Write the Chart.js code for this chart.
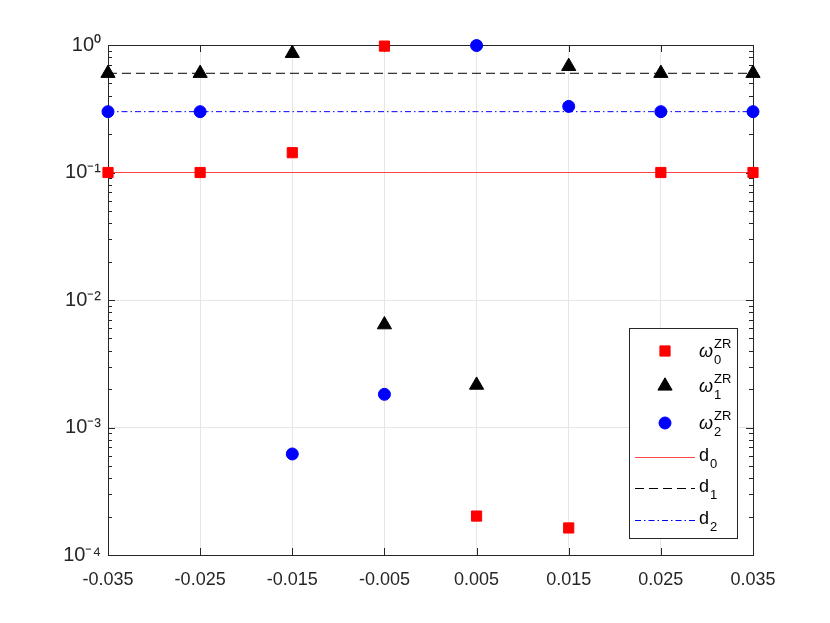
<!DOCTYPE html>
<html><head><meta charset="utf-8">
<script src="https://cdn.jsdelivr.net/npm/chart.js@4.4.0/dist/chart.umd.min.js"></script>
<style>html,body{margin:0;padding:0;background:#fff;} #wrap{width:830px;height:623px;}</style>
</head><body><div id="wrap"><canvas id="c" width="830" height="623"></canvas></div>
<script>
const xValues = [-0.035, -0.025, -0.015, -0.005, 0.005, 0.015, 0.025, 0.035];
const omega0 = [0.1, 0.1, 0.143, 0.98, 2.02e-4, 1.63e-4, 0.1, 0.1];
const omega1 = [0.6, 0.6, 0.86, 6.4e-3, 2.15e-3, 0.68, 0.6, 0.6];
const omega2 = [0.3, 0.3, 6.2e-4, 1.82e-3, 0.99, 0.33, 0.3, 0.3];
const dValues = [0.1, 0.6, 0.3];
const xTicks = [-0.035, -0.025, -0.015, -0.005, 0.005, 0.015, 0.025, 0.035];
const yTicks = [1e-4, 1e-3, 1e-2, 1e-1, 1];
const yTickLabels = ['10\u207B\u2074', '10\u207B\u00B3', '10\u207B\u00B2', '10\u207B\u00B9', '10\u2070'];
const seriesNames = ['\u03C9', '\u03C9', '\u03C9', 'd', 'd', 'd'];
const seriesSubs = ['0', '1', '2', '0', '1', '2'];
const seriesSups = ['ZR', 'ZR', 'ZR', '', '', ''];

const FONT = '"Liberation Sans", Arial, Helvetica, sans-serif';
const AX = '#262626';

function pts(ys) { return xValues.map((x, i) => ({x: x, y: ys[i]})); }
function hline(v) { return [{x: xValues[0], y: v}, {x: xValues[xValues.length - 1], y: v}]; }

const datasets = [
  {label: 'w0', data: pts(omega0), pointStyle: 'rect', pointRadius: 7.2, backgroundColor: '#ff0000', borderColor: '#ff0000', borderWidth: 1, showLine: false, clip: false},
  {label: 'w1', data: pts(omega1), pointStyle: 'triangle', pointRadius: 8.2, backgroundColor: '#000000', borderColor: '#000000', borderWidth: 1, showLine: false, clip: false},
  {label: 'w2', data: pts(omega2), pointStyle: 'circle', pointRadius: 6, backgroundColor: '#0000ff', borderColor: '#0000ff', borderWidth: 1, showLine: false, clip: false},
  {label: 'd0', data: hline(dValues[0]), showLine: true, pointRadius: 0, borderColor: '#ff3030', borderWidth: 0.9, borderDash: [], clip: false},
  {label: 'd1', data: hline(dValues[1]), showLine: true, pointRadius: 0, borderColor: '#000000', borderWidth: 1, borderDash: [9, 5], clip: false},
  {label: 'd2', data: hline(dValues[2]), showLine: true, pointRadius: 0, borderColor: '#0000ff', borderWidth: 1, borderDash: [6, 3, 1.5, 3], clip: false}
];

const boxPlugin = {
  id: 'matlabBox',
  beforeDatasetsDraw(chart) {
    const ctx = chart.ctx, a = chart.chartArea;
    const xs = chart.scales.x, ys = chart.scales.y;
    ctx.save();
    ctx.strokeStyle = AX;
    ctx.lineWidth = 1;
    ctx.beginPath();
    xTicks.forEach(v => {
      const px = Math.round(xs.getPixelForValue(v)) + 0.5;
      ctx.moveTo(px, a.bottom); ctx.lineTo(px, a.bottom - 7);
      ctx.moveTo(px, a.top); ctx.lineTo(px, a.top + 7);
    });
    for (let e = -4; e <= 0; e++) {
      const py = Math.round(ys.getPixelForValue(Math.pow(10, e))) + 0.5;
      ctx.moveTo(a.left, py); ctx.lineTo(a.left + 7, py);
      ctx.moveTo(a.right, py); ctx.lineTo(a.right - 7, py);
      if (e < 0) {
        for (let k = 2; k <= 9; k++) {
          const pm = Math.round(ys.getPixelForValue(k * Math.pow(10, e))) + 0.5;
          ctx.moveTo(a.left, pm); ctx.lineTo(a.left + 4, pm);
          ctx.moveTo(a.right, pm); ctx.lineTo(a.right - 4, pm);
        }
      }
    }
    ctx.stroke();
    ctx.strokeRect(Math.round(a.left) + 0.5, Math.round(a.top) + 0.5, Math.round(a.right - a.left), Math.round(a.bottom - a.top));
    ctx.restore();
  },
  afterDraw(chart) {
    const ctx = chart.ctx;
    const bx = 629, by = 328, bw = 108, bh = 210;
    ctx.save();
    ctx.fillStyle = '#ffffff';
    ctx.fillRect(bx, by, bw, bh);
    ctx.strokeStyle = AX;
    ctx.lineWidth = 1;
    ctx.strokeRect(bx + 0.5, by + 0.5, bw, bh);
    const rows = [351, 386, 423, 457, 488, 520];
    const mx = 665, lx0 = 635, lx1 = 695, tx = 699;
    chart.data.datasets.forEach((ds, i) => {
      const yc = rows[i];
      ctx.save();
      if (i < 3) {
        ctx.fillStyle = ds.backgroundColor; ctx.strokeStyle = ds.borderColor; ctx.lineWidth = 1;
        ctx.beginPath();
        const r = ds.pointRadius;
        if (ds.pointStyle === 'rect') { const s = r * Math.SQRT1_2; ctx.rect(mx - s, yc - s, 2 * s, 2 * s); }
        else if (ds.pointStyle === 'triangle') { ctx.moveTo(mx, yc - r); ctx.lineTo(mx + r * 0.866, yc + r * 0.5); ctx.lineTo(mx - r * 0.866, yc + r * 0.5); ctx.closePath(); }
        else { ctx.arc(mx, yc, r, 0, Math.PI * 2); }
        ctx.fill(); ctx.stroke();
      } else {
        ctx.strokeStyle = ds.borderColor; ctx.lineWidth = ds.borderWidth;
        ctx.setLineDash(ds.borderDash);
        ctx.beginPath(); ctx.moveTo(lx0, yc + 0.5); ctx.lineTo(lx1, yc + 0.5); ctx.stroke();
      }
      ctx.restore();
      ctx.fillStyle = '#000000';
      ctx.textBaseline = 'alphabetic';
      ctx.textAlign = 'left';
      const base = i < 3 ? yc + 6 : yc + 3.5;
      ctx.font = (i < 3 ? 'italic ' : '') + '18px ' + FONT;
      ctx.fillText(seriesNames[i], tx, base);
      const w = ctx.measureText(seriesNames[i]).width;
      ctx.font = '13px ' + FONT;
      ctx.fillText(seriesSubs[i], tx + w + 1, base + 7);
      if (seriesSups[i]) ctx.fillText(seriesSups[i], tx + w + 1, base - 9);
    });
    ctx.restore();
  }
};

new Chart(document.getElementById('c'), {
  type: 'scatter',
  data: {datasets: datasets},
  options: {
    responsive: false,
    animation: false,
    devicePixelRatio: 1,
    layout: {padding: {top: 45, right: 77, left: 0, bottom: 0}},
    plugins: {legend: {display: false}, tooltip: {enabled: false}},
    scales: {
      x: {
        type: 'linear', min: -0.035, max: 0.035,
        afterBuildTicks: s => { s.ticks = xTicks.map(v => ({value: v})); },
        afterFit: s => { s.height = 68; },
        grid: {color: '#e6e6e6', drawTicks: false, lineWidth: 1},
        border: {display: false},
        ticks: {padding: 14, color: AX, font: {family: FONT, size: 18}, maxRotation: 0,
          callback: v => v.toFixed(3)}
      },
      y: {
        type: 'logarithmic', min: 1e-4, max: 1,
        afterBuildTicks: s => { s.ticks = yTicks.map(v => ({value: v})); },
        afterFit: s => { s.width = 108; },
        grid: {color: '#e6e6e6', drawTicks: false, lineWidth: 1},
        border: {display: false},
        ticks: {padding: 7, color: AX, font: {family: FONT, size: 20},
          callback: (v, i) => yTickLabels[yTicks.findIndex(t => Math.abs(Math.log10(t) - Math.log10(v)) < 1e-6)]}
      }
    }
  },
  plugins: [boxPlugin]
});
</script></body></html>
